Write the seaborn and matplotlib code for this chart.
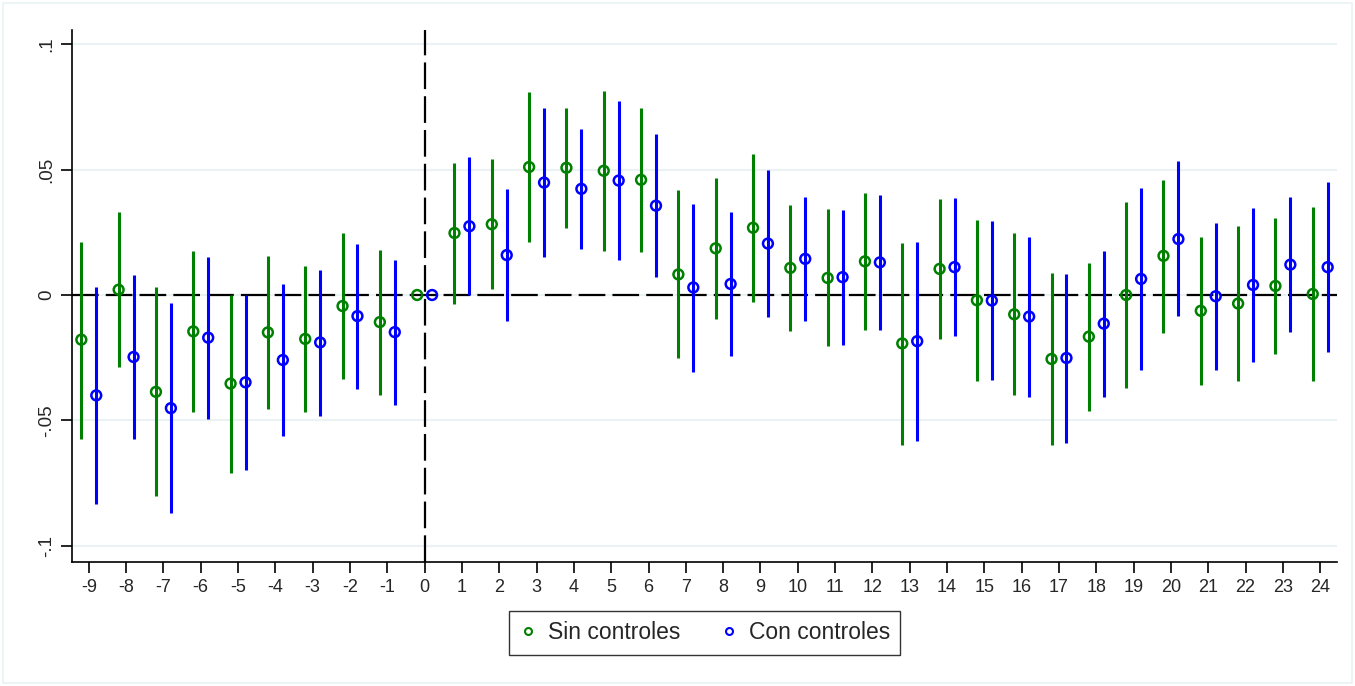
import numpy as np
import pandas as pd
import matplotlib
matplotlib.use("Agg")
import matplotlib.pyplot as plt
import seaborn as sns
from matplotlib.lines import Line2D
from matplotlib.patches import Rectangle

periods = list(range(-9, 25))

sin_coef = [-0.0178, 0.0021, -0.0386, -0.0145, -0.0353, -0.0149, -0.0175, -0.0044, -0.0108, 0.0,
            0.0247, 0.0282, 0.0510, 0.0507, 0.0495, 0.0459, 0.0082, 0.0186, 0.0268, 0.0108,
            0.0068, 0.0134, -0.0193, 0.0104, -0.0021, -0.0077, -0.0255, -0.0166, 0.0000, 0.0156,
            -0.0063, -0.0034, 0.0036, 0.0004]
sin_hi = [0.0212, 0.0329, 0.0030, 0.0177, 0.0000, 0.0156, 0.0116, 0.0249, 0.0181, 0.0,
          0.0525, 0.0541, 0.0807, 0.0747, 0.0812, 0.0744, 0.0418, 0.0468, 0.0562, 0.0359,
          0.0342, 0.0408, 0.0208, 0.0381, 0.0300, 0.0247, 0.0088, 0.0129, 0.0370, 0.0459,
          0.0233, 0.0274, 0.0307, 0.0351]
sin_lo = [-0.0573, -0.0288, -0.0801, -0.0467, -0.0708, -0.0456, -0.0467, -0.0336, -0.0397, 0.0,
          -0.0034, 0.0022, 0.0211, 0.0266, 0.0174, 0.0170, -0.0253, -0.0097, -0.0027, -0.0142,
          -0.0205, -0.0141, -0.0597, -0.0174, -0.0341, -0.0400, -0.0597, -0.0462, -0.0370, -0.0151,
          -0.0359, -0.0342, -0.0237, -0.0342]

con_coef = [-0.0400, -0.0247, -0.0451, -0.0170, -0.0348, -0.0259, -0.0189, -0.0084, -0.0148, 0.0,
            0.0274, 0.0159, 0.0448, 0.0423, 0.0456, 0.0356, 0.0030, 0.0044, 0.0205, 0.0144,
            0.0071, 0.0130, -0.0184, 0.0111, -0.0022, -0.0086, -0.0251, -0.0114, 0.0064, 0.0223,
            -0.0005, 0.0040, 0.0121, 0.0111]
con_hi = [0.0030, 0.0078, -0.0032, 0.0153, 0.0000, 0.0044, 0.0100, 0.0205, 0.0138, 0.0,
          0.0551, 0.0422, 0.0744, 0.0662, 0.0775, 0.0641, 0.0363, 0.0332, 0.0499, 0.0392,
          0.0340, 0.0400, 0.0212, 0.0386, 0.0293, 0.0232, 0.0085, 0.0175, 0.0425, 0.0532,
          0.0288, 0.0345, 0.0389, 0.0451]
con_lo = [-0.0832, -0.0573, -0.0870, -0.0493, -0.0699, -0.0562, -0.0482, -0.0373, -0.0437, 0.0,
          0.0000, -0.0104, 0.0152, 0.0185, 0.0138, 0.0071, -0.0305, -0.0244, -0.0088, -0.0105,
          -0.0199, -0.0140, -0.0581, -0.0164, -0.0338, -0.0405, -0.0588, -0.0407, -0.0299, -0.0082,
          -0.0299, -0.0267, -0.0148, -0.0227]

series_names = ["Sin controles", "Con controles"]
y_ticks = [-0.1, -0.05, 0, 0.05, 0.1]
y_tick_labels = ["-.1", "-.05", "0", ".05", ".1"]

offsets = {"Sin controles": -0.2, "Con controles": 0.2}
colors = {"Sin controles": "#008000", "Con controles": "#0000FF"}

rows = []
for name, c, lo, hi in [("Sin controles", sin_coef, sin_lo, sin_hi),
                        ("Con controles", con_coef, con_lo, con_hi)]:
    for p, cv, l, h in zip(periods, c, lo, hi):
        rows.append({"serie": name, "period": p, "x": p + offsets[name],
                     "coef": cv, "lo": l, "hi": h})
df = pd.DataFrame(rows)

sns.set_theme(style="white")
plt.rcParams['font.family'] = ['Liberation Sans', 'DejaVu Sans']

fig = plt.figure(figsize=(13.55, 6.86), dpi=100)
ax = fig.add_axes([72/1355, 124/686, (1337-72)/1355, (562-30)/686])

# faint outer border of the graph region
fig.patches.append(Rectangle((3/1355, 3/686), 1349/1355, 680/686, transform=fig.transFigure,
                             fill=False, edgecolor="#EAF2F3", lw=1.2))

# grid lines
for yt in y_ticks:
    ax.axhline(yt, color="#EAF2F3", lw=1.5, zorder=0)

# reference lines
ax.axhline(0, color="black", lw=1.6, dashes=(12, 3.2), zorder=1)
ax.axvline(0, color="black", lw=1.6, dashes=(12, 3.2), zorder=1)

# CIs
for name in series_names:
    sub = df[(df["serie"] == name) & (df["lo"] != df["hi"])]
    ax.vlines(sub["x"], sub["lo"], sub["hi"], color=colors[name], lw=2.2, zorder=2)

sns.scatterplot(data=df, x="x", y="coef", hue="serie", hue_order=series_names,
                palette=colors, marker="o", s=50, facecolors="none",
                linewidth=1.8, ax=ax, zorder=4, legend=False)
coll = ax.collections[-1]
coll.set_edgecolors([colors[s] for s in df["serie"]])
coll.set_facecolors("none")

ax.set_xlim(-9.45, 24.45)
ax.set_ylim(-0.1064, 0.1056)
ax.set_xticks(periods)
ax.set_xticklabels([str(p) for p in periods], fontsize=13)
ax.set_yticks(y_ticks)
ax.set_yticklabels(y_tick_labels, fontsize=13.5, rotation=90, va="center")
ax.set_xlabel("")
ax.set_ylabel("")
ax.tick_params(axis="both", direction="out", length=8, width=1.2, color="black",
               left=True, bottom=True, pad=4)
for s in ["top", "right"]:
    ax.spines[s].set_visible(False)
for s in ["left", "bottom"]:
    ax.spines[s].set_color("black")
    ax.spines[s].set_linewidth(1.2)

handles = [Line2D([], [], linestyle="none", marker="o", markersize=5,
                  markerfacecolor="none", markeredgecolor=colors[n], markeredgewidth=1.5)
           for n in series_names]
leg = ax.legend(handles, series_names, loc="upper center", bbox_to_anchor=(0.5, -0.092),
                borderaxespad=0, ncol=2, frameon=True, fontsize=16.5, handletextpad=0.47,
                columnspacing=1.7, borderpad=0.45, handlelength=0.8, fancybox=False)
leg.get_frame().set_edgecolor("black")
leg.get_frame().set_linewidth(1.0)

fig.savefig("out.png", dpi=100, facecolor="white")
